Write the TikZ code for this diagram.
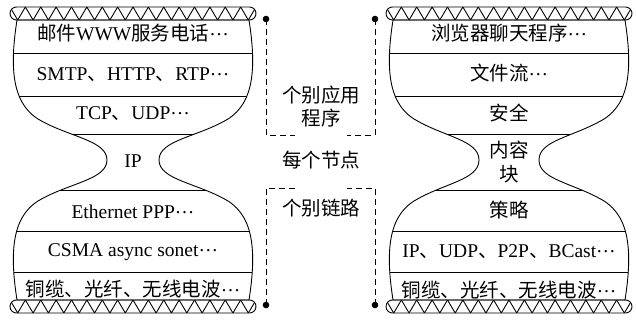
\documentclass[tikz,border=0pt]{standalone}
\usepackage{fontspec}
\setmainfont{Liberation Serif}
\newfontfamily\cjk{Noto Sans CJK SC}
\newcommand\mell{\raisebox{0.28em}{\rmfamily …}}
\newcommand\glasspath[1]{(-116,20) .. controls (-123,65) and (-122,102) .. (-95,119) .. controls (-65,137) and (-#1,140) .. (-#1,160) .. controls (-#1,180) and (-65,183) .. (-95,201) .. controls (-122,218) and (-123,255) .. (-116,300) -- (116,300) .. controls (123,255) and (122,218) .. (95,201) .. controls (65,183) and (#1,180) .. (#1,160) .. controls (#1,140) and (65,137) .. (95,119) .. controls (122,102) and (123,65) .. (116,20) -- cycle}
\newcommand\zigband[2]{%
  \begin{scope}
    \clip[rounded corners=6.5pt] (-123,#1) rectangle (123,#2);
    \foreach \i in {0,...,15}{
      \draw[line join=round] ({-123+15.375*\i},#1) -- ({-123+15.375*\i+7.6875},#2) -- ({-123+15.375*(\i+1)},#1);
    }
  \end{scope}
  \draw[rounded corners=6.5pt] (-123,#1) rectangle (123,#2);
}
\newcommand\hglass[1]{%
  \draw \glasspath{#1};
  \begin{scope}
    \clip \glasspath{#1};
    \foreach \yy in {53,96,134,190,231,272}{\draw (-140,\yy) -- (140,\yy);}
  \end{scope}
  \zigband{7}{20}
  \zigband{300}{313}
}
\tikzset{
  lbl/.style={inner sep=0pt, font=\fontsize{19.5}{23}\selectfont, text height=14pt, text depth=3pt},
  dashln/.style={dashed, dash pattern=on 6pt off 4pt, line width=0.9pt},
}
\begin{document}
\begin{tikzpicture}[x=1pt, y=-1pt, line width=0.9pt]
\useasboundingbox (0,0) rectangle (636,320);
% left hourglass
\begin{scope}[xshift=133pt]
  \hglass{26}
  \node[lbl] (l1) at (0,35) {{\cjk 邮件}WWW{\cjk 服务电话}\mell};
  \node[lbl] (l2) at (0,75) {SMTP{\cjk 、}HTTP{\cjk 、}RTP\mell};
  \node[lbl] (l3) at (0,114) {TCP{\cjk 、}UDP\mell};
  \node[lbl] (l4) at (0,162) {IP};
  \node[lbl] (l5) at (0,213) {Ethernet PPP\mell};
  \node[lbl] (l6) at (0,251) {CSMA async sonet\mell};
  \node[lbl] (l7) at (0,291) {{\cjk 铜缆、光纤、无线电波}\mell};
\end{scope}
% right hourglass
\begin{scope}[xshift=509pt]
  \hglass{30}
  \node[lbl] (r1) at (0,35) {{\cjk 浏览器聊天程序}\mell};
  \node[lbl] (r2) at (0,75) {{\cjk 文件流}\mell};
  \node[lbl] (r3) at (0,115) {\cjk 安全};
  \node[lbl] (r4a) at (0,152) {\cjk 内容};
  \node[lbl] (r4b) at (0,176) {\cjk 块};
  \node[lbl] (r5) at (0,212) {\cjk 策略};
  \node[lbl] (r6) at (0,252) {IP{\cjk 、}UDP{\cjk 、}P2P{\cjk 、}BCast\mell};
  \node[lbl] (r7) at (0,292) {{\cjk 铜缆、光纤、无线电波}\mell};
\end{scope}
% middle
\coordinate (d1) at (266,19);
\coordinate (d2) at (375,19);
\coordinate (d3) at (266,305);
\coordinate (d4) at (375,305);
\coordinate (a1) at (266,135);
\coordinate (a2) at (295,135);
\coordinate (a3) at (375,135);
\coordinate (a4) at (347,135);
\coordinate (b1) at (266,188);
\coordinate (b2) at (295,188);
\coordinate (b3) at (375,188);
\coordinate (b4) at (347,188);
\foreach \d in {d1,d2,d3,d4}{\fill (\d) circle (3.3);}
\draw[dashln] (d1) -- (a1) -- (a2);
\draw[dashln] (d2) -- (a3) -- (a4);
\draw[dashln] (d3) -- (b1) -- (b2);
\draw[dashln] (d4) -- (b3) -- (b4);
\node[lbl] (m1a) at (321,97) {\cjk 个别应用};
\node[lbl] (m1b) at (321,120) {\cjk 程序};
\node[lbl] (m2) at (321,162) {\cjk 每个节点};
\node[lbl] (m3) at (321,210) {\cjk 个别链路};
\end{tikzpicture}
\end{document}
